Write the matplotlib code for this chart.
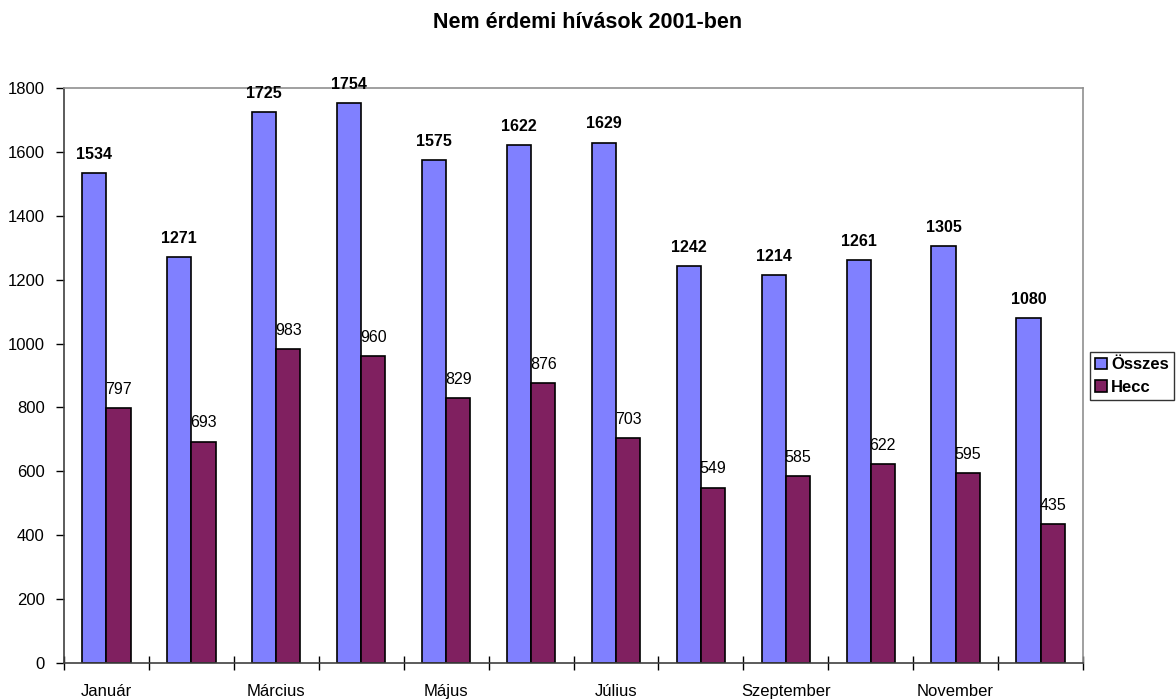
import matplotlib
matplotlib.use("Agg")
import matplotlib.pyplot as plt
import numpy as np

months = ["Január", "Február", "Március", "Április", "Május", "Június",
          "Július", "Augusztus", "Szeptember", "Október", "November", "December"]
osszes = [1534, 1271, 1725, 1754, 1575, 1622, 1629, 1242, 1214, 1261, 1305, 1080]
hecc = [797, 693, 983, 960, 829, 876, 703, 549, 585, 622, 595, 435]

plt.rcParams['font.family'] = ['Liberation Sans', 'DejaVu Sans']

fig = plt.figure(figsize=(11.76, 6.99), dpi=100)
ax = fig.add_axes([64 / 1176, 1 - 663 / 699, (1083 - 64) / 1176, (663 - 88) / 699])

x = np.arange(len(months))
w = 0.285
b1 = ax.bar(x - w / 2, osszes, w, color="#8080FF", edgecolor="black", linewidth=1.2, label="Összes")
b2 = ax.bar(x + w / 2, hecc, w, color="#802060", edgecolor="black", linewidth=1.2, label="Hecc")

for xi, v in zip(x, osszes):
    ax.text(xi - w / 2, v + 35, str(v), ha="center", va="bottom", fontsize=11.5, fontweight="bold")
for xi, v in zip(x, hecc):
    ax.text(xi + w / 2, v + 35, str(v), ha="center", va="bottom", fontsize=11.5)

ax.set_xlim(-0.5, len(months) - 0.5)
ax.set_ylim(0, 1800)
ax.set_yticks(range(0, 1801, 200))
ax.tick_params(axis="y", labelsize=12, direction="out", length=6, width=1, pad=8)

# minor ticks between groups, month labels on every other group
ax.set_xticks(np.arange(-0.5, len(months)), minor=True)
ax.set_xticks(x[::2])
ax.set_xticklabels(months[::2], fontsize=12)
ax.tick_params(axis="x", which="major", length=0, pad=15)
ax.tick_params(axis="x", which="minor", direction="inout", length=10, width=1)

for s in ("left", "bottom"):
    ax.spines[s].set_color("#404040")
    ax.spines[s].set_linewidth(1.2)
for s in ("top", "right"):
    ax.spines[s].set_color("#909090")
    ax.spines[s].set_linewidth(1.2)

fig.text(0.5, 1 - 23 / 699, "Nem érdemi hívások 2001-ben", ha="center", va="center",
         fontsize=15.5, fontweight="bold")

leg = fig.legend(handles=[b1, b2], loc="center right", bbox_to_anchor=(1174 / 1176, 1 - 376 / 699),
                 frameon=True, fancybox=False, edgecolor="black", fontsize=12,
                 handlelength=0.7, handleheight=0.7, handletextpad=0.25, borderpad=0.3,
                 labelspacing=0.45, borderaxespad=0)
leg.get_frame().set_linewidth(1.0)
for t in leg.get_texts():
    t.set_fontweight("bold")

fig.savefig("out.png", dpi=100)
